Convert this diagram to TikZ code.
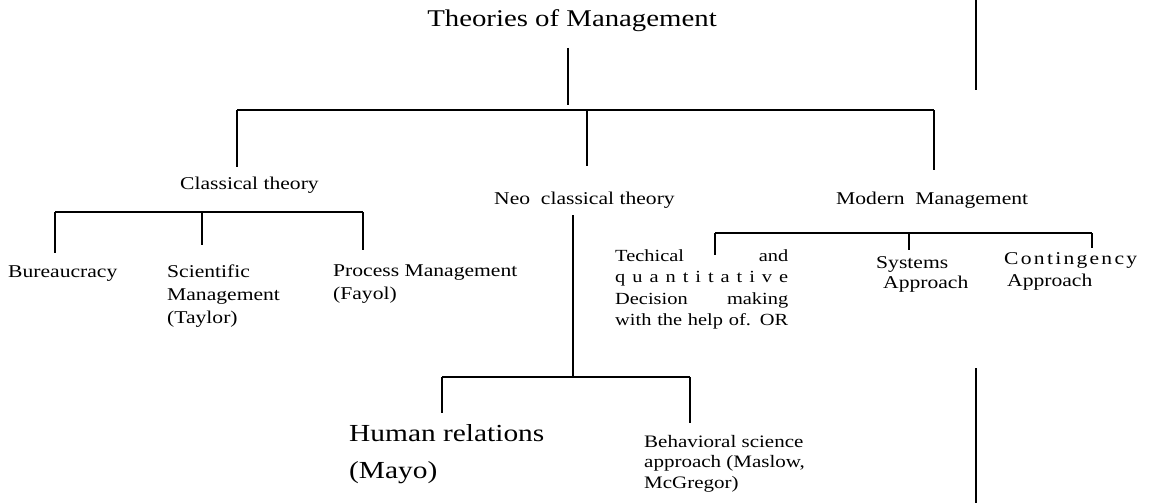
\documentclass[tikz,border=0pt]{standalone}
\usepackage{fontspec}
\setmainfont{Liberation Serif}[FakeStretch=1.2]
% stacked lines whose first baseline is the box baseline
\newcommand{\rowsof}[2][l]{\begin{tabular}[t]{@{}#1@{}}#2\end{tabular}}
% a line spread out to a fixed width
\newcommand{\spreadto}[2]{\makebox[#1][s]{#2}}
\begin{document}
\begin{tikzpicture}[x=1pt,y=-1pt,
  lbl/.style={inner sep=0pt, anchor=base west},
  body/.style={font=\fontsize{18}{23}\selectfont},
  link/.style={line width=2.2pt},
  rule/.style={line width=1.3pt}]
\useasboundingbox (0,0) rectangle (1149,503);

% ---- labels ----
\node[inner sep=0pt, anchor=base, font=\fontsize{24}{28}\selectfont] (title) at (572,27) {Theories of Management};

\node[lbl, body] (classical) at (180,189) {Classical theory};
\node[lbl, body] (neo) at (494,204) {Neo\ \ classical theory};
\node[lbl, body] (modern) at (836,204) {Modern\ \ Management};

\node[lbl, body] (bureau) at (8,277) {Bureaucracy};
\node[lbl, body] (scient) at (167,277) {\rowsof{Scientific\\Management\\(Taylor)}};
\node[lbl, body] (process) at (333,276) {\rowsof{Process Management\\(Fayol)}};

\node[lbl, font=\fontsize{17}{21.5}\selectfont] (tech) at (615,261)
  {\rowsof{\spreadto{173pt}{Techical\hfill and}\\
           \spreadto{173pt}{q\hfill u\hfill a\hfill n\hfill t\hfill i\hfill t\hfill a\hfill t\hfill i\hfill v\hfill e}\\
           \spreadto{173pt}{Decision\hfill making}\\
           \spreadto{173pt}{with the help of. OR}}};
\node[lbl, font=\fontsize{18}{20}\selectfont] (systems) at (876,268) {\rowsof{Systems\\\hspace*{7pt}Approach}};
\node[lbl, font=\fontsize{18}{22}\selectfont] (conting) at (1004,264)
  {\rowsof{\spreadto{133pt}{C\hfill o\hfill n\hfill t\hfill i\hfill n\hfill g\hfill e\hfill n\hfill c\hfill y}\\\hspace*{3pt}Approach}};

\node[lbl, font=\fontsize{24.5}{37}\selectfont] (human) at (349,441) {\rowsof{Human relations\\(Mayo)}};
\node[lbl, font=\fontsize{17.5}{20.5}\selectfont] (behav) at (644,447) {\rowsof{Behavioral science\\approach (Maslow,\\McGregor)}};

% ---- junction points ----
\coordinate (titleFoot) at (568,48);
\coordinate (hub) at (568,105);
\coordinate (hubL) at (237,110);
\coordinate (hubM) at (587,110);
\coordinate (hubR) at (934,110);
\coordinate (clsL) at (55,212);
\coordinate (clsM) at (202,212);
\coordinate (clsR) at (363,212);
\coordinate (neoTop) at (573,215);
\coordinate (neoHub) at (573,377);
\coordinate (neoL) at (442,377);
\coordinate (neoR) at (690,377);
\coordinate (modL) at (715,233);
\coordinate (modM) at (909,233);
\coordinate (modR) at (1092,233);
\coordinate (edgeA) at (976,0);
\coordinate (edgeB) at (976,90);
\coordinate (edgeC) at (976,368);
\coordinate (edgeD) at (976,503);

% ---- top level ----
\draw[link] (titleFoot) -- (hub);
\draw[link] (hubL) -- (hubR);
\draw[link] (hubL) -- ++(0,57);
\draw[link] (hubM) -- ++(0,56);
\draw[link] (hubR) -- ++(0,60);

% ---- classical branch ----
\draw[link] (clsL) -- (clsR);
\draw[link] (clsL) -- ++(0,41);
\draw[link] (clsM) -- ++(0,33);
\draw[link] (clsR) -- ++(0,38);

% ---- neo-classical branch ----
\draw[link] (neoTop) -- (neoHub);
\draw[link] (neoL) -- (neoR);
\draw[link] (neoL) -- ++(0,36);
\draw[link] (neoR) -- ++(0,46);

% ---- modern branch ----
\draw[link] (modL) -- (modR);
\draw[link] (modL) -- ++(0,22);
\draw[link] (modM) -- ++(0,17);
\draw[link] (modR) -- ++(0,15);

% ---- page rule ----
\draw[rule] (edgeA) -- (edgeB);
\draw[rule] (edgeC) -- (edgeD);
\end{tikzpicture}
\end{document}
